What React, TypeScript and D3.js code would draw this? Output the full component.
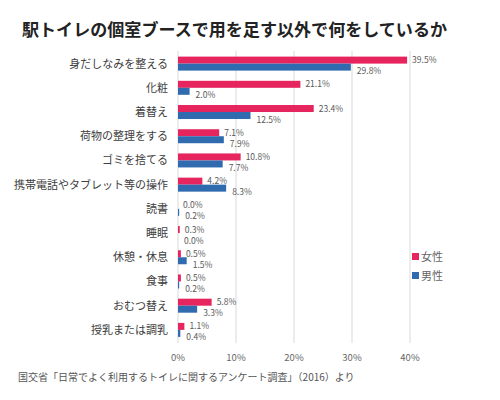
import * as d3 from "d3";

const categories = ["身だしなみを整える", "化粧", "着替え", "荷物の整理をする", "ゴミを捨てる", "携帯電話やタブレット等の操作", "読書", "睡眠", "休憩・休息", "食事", "おむつ替え", "授乳または調乳"];
const female = [39.5, 21.1, 23.4, 7.1, 10.8, 4.2, 0.0, 0.3, 0.5, 0.5, 5.8, 1.1];
const male = [29.8, 2.0, 12.5, 7.9, 7.7, 8.3, 0.2, 0.0, 1.5, 0.2, 3.3, 0.4];
const xTicks = [0, 10, 20, 30, 40];
const seriesNames = ["女性", "男性"];
const colors = ["#E6245E", "#2F6BAE"];

const W = 500, H = 400;
const FONT = "'Noto Sans CJK JP', 'Noto Sans', sans-serif";

export default function App() {
  const x = d3.scaleLinear().domain([0, 40]).range([178, 410]);
  const y = d3.scaleBand().domain(categories).range([51.5, 342]).paddingInner(0).paddingOuter(0);
  const bh = 7;

  return (
    <svg width={W} height={H} style={{ position: "absolute", left: 0, top: 0, fontFamily: FONT }}>
      <rect width={W} height={H} fill="#fff" />
      <text x={22} y={36} fontSize={17} fontWeight="bold" fill="#222" textLength={425} lengthAdjust="spacingAndGlyphs">
        駅トイレの個室ブースで用を足す以外で何をしているか
      </text>
      {xTicks.map(t => (
        <g key={t}>
          <line x1={x(t)} x2={x(t)} y1={51} y2={343} stroke="#d9d9d9" strokeWidth={1} />
          <text x={x(t)} y={361} fontSize={9.5} fill="#666" textAnchor="middle">{t}%</text>
        </g>
      ))}
      {categories.map((c, i) => {
        const cy = y(c)! + y.bandwidth() / 2;
        return (
          <g key={c}>
            <text x={168} y={cy + 4} fontSize={11} fill="#404040" textAnchor="end">{c}</text>
            <rect x={x(0)} y={cy - bh} width={x(female[i]) - x(0)} height={bh} fill={colors[0]} />
            <rect x={x(0)} y={cy} width={Math.max(x(male[i]) - x(0), 0)} height={bh} fill={colors[1]} />
            <text x={x(female[i]) + 5} y={cy - 0.5} fontSize={8.5} fill="#595959">{female[i].toFixed(1)}%</text>
            <text x={x(male[i]) + 6} y={cy + 10.5} fontSize={8.5} fill="#595959">{male[i].toFixed(1)}%</text>
          </g>
        );
      })}
      {seriesNames.map((s, i) => (
        <g key={s}>
          <rect x={412} y={253 + i * 19} width={7} height={7} fill={colors[i]} />
          <text x={421} y={261 + i * 19} fontSize={11} fill="#666">{s}</text>
        </g>
      ))}
      <text x={18} y={381} fontSize={10} fill="#555">国交省「日常でよく利用するトイレに関するアンケート調査」（2016）より</text>
    </svg>
  );
}
